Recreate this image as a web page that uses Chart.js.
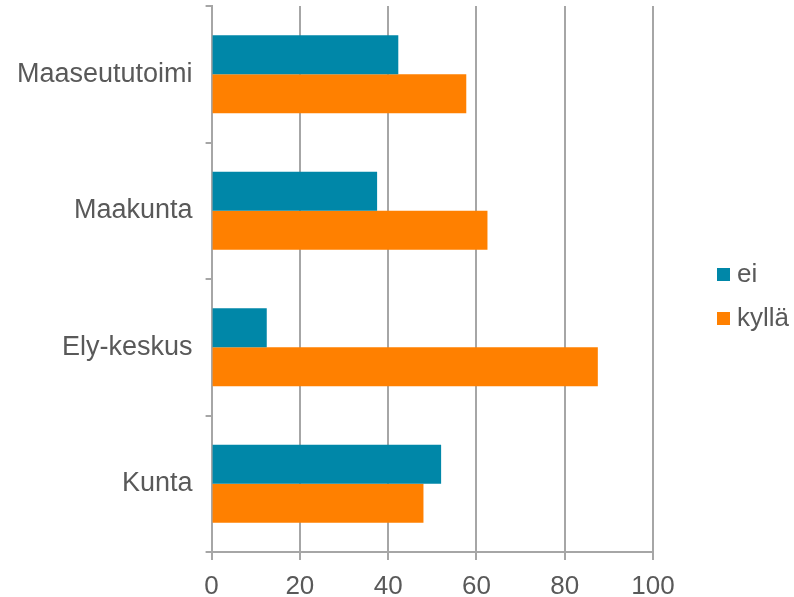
<!DOCTYPE html>
<html>
<head>
<meta charset="utf-8">
<script src="https://cdn.jsdelivr.net/npm/chart.js@4.4.0/dist/chart.umd.min.js"></script>
<style>
    body { margin: 0; background: #fff; }
    #wrap { position: relative; width: 794px; height: 597px; }
    .legend-item { position: absolute; left: 717px; font: 26px "Liberation Sans", Arial, sans-serif; color: #595959; line-height: 26px; }
    .legend-item span { position: absolute; left: 0; width: 13px; height: 13px; }
    .legend-item b { font-weight: normal; position: absolute; left: 20px; top: 0; white-space: nowrap; }
</style>
</head>
<body>
<div id="wrap">
    <canvas id="barChart"></canvas>
    <div id="legend"></div>
</div>
<script>
const categories = ['Maaseututoimi', 'Maakunta', 'Ely-keskus', 'Kunta'];
const eiValues = [42.3, 37.5, 12.5, 52.0];
const kyllaValues = [57.7, 62.5, 87.5, 48.0];
const seriesNames = ['ei', 'kyllä'];
const seriesColors = ['#0087a8', '#ff8000'];
const xTicks = [0, 20, 40, 60, 80, 100];

const textColor = '#595959';
const gridColor = '#a6a6a6';
const fontFamily = '"Liberation Sans", Arial, sans-serif';

let barChart;

function initChart() {
    const ctx = document.getElementById('barChart').getContext('2d');

    barChart = new Chart(ctx, {
        type: 'bar',
        data: {
            labels: categories,
            datasets: [{
                label: seriesNames[0],
                data: eiValues,
                backgroundColor: seriesColors[0]
            }, {
                label: seriesNames[1],
                data: kyllaValues,
                backgroundColor: seriesColors[1]
            }]
        },
        options: {
            indexAxis: 'y',
            responsive: true,
            maintainAspectRatio: false,
            animation: false,
            categoryPercentage: 0.57,
            barPercentage: 1.0,
            layout: {
                padding: { left: 4, right: 141, top: 6, bottom: 0 }
            },
            plugins: {
                legend: { display: false },
                tooltip: { enabled: false }
            },
            scales: {
                x: {
                    min: xTicks[0],
                    max: xTicks[xTicks.length - 1],
                    afterBuildTicks: function(axis) {
                        axis.ticks = xTicks.map(v => ({ value: v }));
                    },
                    // keep the plot reaching down to y=552
                    afterFit: function(axis) {
                        axis.height = 45;
                    },
                    ticks: {
                        color: textColor,
                        padding: 11,
                        font: { family: fontFamily, size: 26 }
                    },
                    grid: { color: gridColor, lineWidth: 2, tickLength: 8 },
                    border: { color: gridColor, width: 2 }
                },
                y: {
                    // labels sit in the middle of each band, no extra room needed
                    afterFit: function(axis) {
                        axis.paddingTop = 0;
                        axis.paddingBottom = 0;
                    },
                    ticks: {
                        color: textColor,
                        padding: 13,
                        font: { family: fontFamily, size: 27 }
                    },
                    grid: { color: gridColor, lineWidth: 2, drawOnChartArea: false, tickLength: 6 },
                    border: { color: gridColor, width: 2 }
                }
            }
        }
    });

    // simple legend beside the plot
    const legend = document.getElementById('legend');
    seriesNames.forEach((name, i) => {
        const item = document.createElement('div');
        item.className = 'legend-item';
        item.style.top = (260 + i * 44) + 'px';
        item.innerHTML = '<span style="top:8px;background:' + seriesColors[i] + '"></span><b>' + name + '</b>';
        legend.appendChild(item);
    });
}

document.addEventListener('DOMContentLoaded', initChart);
</script>
</body>
</html>
